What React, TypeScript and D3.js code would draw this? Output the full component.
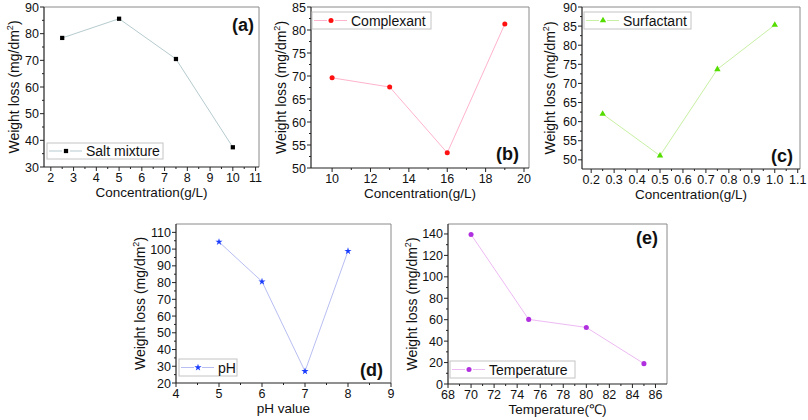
import React from "react";
import * as d3 from "d3";

// ---- data ----
const saltX = [2.5, 5, 7.5, 10];
const saltY = [78.4, 85.6, 70.5, 37.4];
const complexX = [10, 13, 16, 19];
const complexY = [69.6, 67.6, 53.3, 81.3];
const surfX = [0.25, 0.5, 0.75, 1.0];
const surfY = [62.0, 51.1, 73.7, 85.3];
const phX = [5, 6, 7, 8];
const phY = [104.3, 80.6, 27.0, 98.8];
const tempX = [70, 75, 80, 85];
const tempY = [139.5, 60.3, 52.8, 19.0];

const aXTicks = [2, 3, 4, 5, 6, 7, 8, 9, 10, 11];
const aYTicks = [30, 40, 50, 60, 70, 80, 90];
const bXTicks = [10, 12, 14, 16, 18, 20];
const bYTicks = [50, 55, 60, 65, 70, 75, 80, 85];
const cXTicks = [0.2, 0.3, 0.4, 0.5, 0.6, 0.7, 0.8, 0.9, 1.0, 1.1];
const cYTicks = [50, 55, 60, 65, 70, 75, 80, 85, 90];
const dXTicks = [4, 5, 6, 7, 8, 9];
const dYTicks = [20, 30, 40, 50, 60, 70, 80, 90, 100, 110];
const eXTicks = [68, 70, 72, 74, 76, 78, 80, 82, 84, 86];
const eYTicks = [0, 20, 40, 60, 80, 100, 120, 140];

const FONT = "'Liberation Sans', Arial, sans-serif";

type Cfg = {
  xs: number[]; ys: number[];
  xDomain: [number, number]; yDomain: [number, number];
  xTicks: number[]; yTicks: number[];
  xFmt: (v: number) => string;
  left: number; right: number; top: number; bottom: number;
  xTitle: React.ReactNode; yTitleX: number;
  legend: string; legendBox: [number, number, number, number];
  label: string; labelX: number; labelY: number;
  marker: d3.SymbolType; markerSize: number; markerColor: string; lineColor: string;
};

const fmtInt = (v: number) => String(v);
const fmt1 = (v: number) => v.toFixed(1);

const panels: Cfg[] = [
  {
    xs: saltX, ys: saltY, xDomain: [1.7, 11.15], yDomain: [30, 90],
    xTicks: aXTicks, yTicks: aYTicks, xFmt: fmtInt,
    left: 44, right: 259, top: 7, bottom: 167,
    xTitle: "Concentration(g/L)", yTitleX: 19,
    legend: "Salt mixture", legendBox: [47, 143, 116, 16],
    label: "(a)", labelX: 254, labelY: 31,
    marker: d3.symbolSquare, markerSize: 18, markerColor: "#000000", lineColor: "#b6cbcf",
  },
  {
    xs: complexX, ys: complexY, xDomain: [8.9, 20.26], yDomain: [50, 85],
    xTicks: bXTicks, yTicks: bYTicks, xFmt: fmtInt,
    left: 311, right: 529, top: 7, bottom: 168,
    xTitle: "Concentration(g/L)", yTitleX: 285.5,
    legend: "Complexant", legendBox: [312, 12, 119, 17],
    label: "(b)", labelX: 519, labelY: 160,
    marker: d3.symbolCircle, markerSize: 20, markerColor: "#ff1010", lineColor: "#ffb4cc",
  },
  {
    xs: surfX, ys: surfY, xDomain: [0.16, 1.11], yDomain: [47.6, 90],
    xTicks: cXTicks, yTicks: cYTicks, xFmt: fmt1,
    left: 582, right: 800, top: 7, bottom: 169,
    xTitle: "Concentration(g/L)", yTitleX: 555,
    legend: "Surfactant", legendBox: [584, 12, 107, 17],
    label: "(c)", labelX: 793, labelY: 162,
    marker: d3.symbolTriangle, markerSize: 18, markerColor: "#55dd00", lineColor: "#c8f0a4",
  },
  {
    xs: phX, ys: phY, xDomain: [4, 9], yDomain: [20, 115],
    xTicks: dXTicks, yTicks: dYTicks, xFmt: fmtInt,
    left: 176, right: 391, top: 224, bottom: 383,
    xTitle: "pH value", yTitleX: 145,
    legend: "pH", legendBox: [179, 359, 58, 17],
    label: "(d)", labelX: 383, labelY: 376,
    marker: d3.symbolStar, markerSize: 16, markerColor: "#1a3cff", lineColor: "#b8bef2",
  },
  {
    xs: tempX, ys: tempY, xDomain: [68, 87], yDomain: [0, 149.3],
    xTicks: eXTicks, yTicks: eYTicks, xFmt: fmtInt,
    left: 448, right: 667, top: 224, bottom: 384,
    xTitle: "Temperature(℃)", yTitleX: 417,
    legend: "Temperature", legendBox: [450, 361, 125, 17],
    label: "(e)", labelX: 658, labelY: 244,
    marker: d3.symbolCircle, markerSize: 20, markerColor: "#b030e0", lineColor: "#eebaf4",
  },
];

function midpoints(t: number[]): number[] {
  const out: number[] = [];
  for (let i = 0; i < t.length - 1; i++) out.push((t[i] + t[i + 1]) / 2);
  return out;
}

function Panel({ c }: { c: Cfg }) {
  const x = d3.scaleLinear().domain(c.xDomain).range([c.left, c.right]);
  const y = d3.scaleLinear().domain(c.yDomain).range([c.bottom, c.top]);
  const pts = c.xs.map((v, i) => [v, c.ys[i]] as [number, number]);
  const line = d3.line<[number, number]>().x((d) => x(d[0])).y((d) => y(d[1]));
  const sym = d3.symbol().type(c.marker).size(c.markerSize);
  const xMinor = midpoints(c.xTicks).filter((v) => v >= c.xDomain[0] && v <= c.xDomain[1]);
  const yMinor = midpoints(c.yTicks).filter((v) => v >= c.yDomain[0] && v <= c.yDomain[1]);
  const [bx, by, bw, bh] = c.legendBox;
  const my = by + bh / 2;
  const mx = bx + 19;
  const cx = (c.left + c.right) / 2;
  const cy = (c.top + c.bottom) / 2;
  return (
    <g fontFamily={FONT}>
      {/* frame top/right */}
      <line x1={c.left} x2={c.right} y1={c.top} y2={c.top} stroke="#8a8a8a" strokeWidth={1} />
      <line x1={c.right} x2={c.right} y1={c.top} y2={c.bottom} stroke="#8a8a8a" strokeWidth={1} />
      {/* data line */}
      <path d={line(pts) || ""} fill="none" stroke={c.lineColor} strokeWidth={1} />
      {pts.map((p, i) => (
        <path key={i} d={sym() || ""} transform={`translate(${x(p[0])},${y(p[1])})`} fill={c.markerColor} />
      ))}
      {/* axes */}
      <line x1={c.left} x2={c.left} y1={c.top} y2={c.bottom} stroke="#222" strokeWidth={1.2} />
      <line x1={c.left} x2={c.right} y1={c.bottom} y2={c.bottom} stroke="#222" strokeWidth={1.2} />
      {c.xTicks.map((t) => (
        <g key={"xt" + t}>
          <line x1={x(t)} x2={x(t)} y1={c.bottom} y2={c.bottom + 4} stroke="#222" />
          <text x={x(t)} y={c.bottom + 14.5} fontSize={12.5} textAnchor="middle" fill="#111">{c.xFmt(t)}</text>
        </g>
      ))}
      {xMinor.map((t) => (
        <line key={"xm" + t} x1={x(t)} x2={x(t)} y1={c.bottom} y2={c.bottom + 2} stroke="#222" />
      ))}
      {c.yTicks.map((t) => (
        <g key={"yt" + t}>
          <line x1={c.left - 4} x2={c.left} y1={y(t)} y2={y(t)} stroke="#222" />
          <text x={c.left - 5} y={y(t) + 4.5} fontSize={12.5} textAnchor="end" fill="#111">{t}</text>
        </g>
      ))}
      {yMinor.map((t) => (
        <line key={"ym" + t} x1={c.left - 2} x2={c.left} y1={y(t)} y2={y(t)} stroke="#222" />
      ))}
      {/* titles */}
      <text x={cx} y={c.bottom + 30} fontSize={13.5} textAnchor="middle" fill="#111">{c.xTitle}</text>
      <text transform={`translate(${c.yTitleX},${cy}) rotate(-90)`} fontSize={14} textAnchor="middle" fill="#111">
        Weight loss (mg/dm<tspan fontSize={9} dy={-6}>2</tspan><tspan dy={6}>)</tspan>
      </text>
      {/* legend */}
      <rect x={bx} y={by} width={bw} height={bh} fill="#fff" stroke="#c4c4c4" strokeWidth={1} />
      <line x1={bx + 2} x2={mx - 4} y1={my} y2={my} stroke={c.lineColor} strokeWidth={1} />
      <line x1={mx + 4} x2={bx + 35} y1={my} y2={my} stroke={c.lineColor} strokeWidth={1} />
      <path d={sym() || ""} transform={`translate(${mx},${my})`} fill={c.markerColor} />
      <text x={bx + 39} y={my + 5} fontSize={14} fill="#111">{c.legend}</text>
      {/* panel label */}
      <text x={c.labelX} y={c.labelY} fontSize={18} fontWeight="bold" textAnchor="end" fill="#111">{c.label}</text>
    </g>
  );
}

export default function App() {
  return (
    <div style={{ position: "absolute", left: 0, top: 0 }}>
      <svg width={808} height={420} viewBox="0 0 808 420" style={{ display: "block", background: "#fff" }}>
        <rect width={808} height={420} fill="#fff" />
        {panels.map((c, i) => (
          <Panel key={i} c={c} />
        ))}
      </svg>
    </div>
  );
}
